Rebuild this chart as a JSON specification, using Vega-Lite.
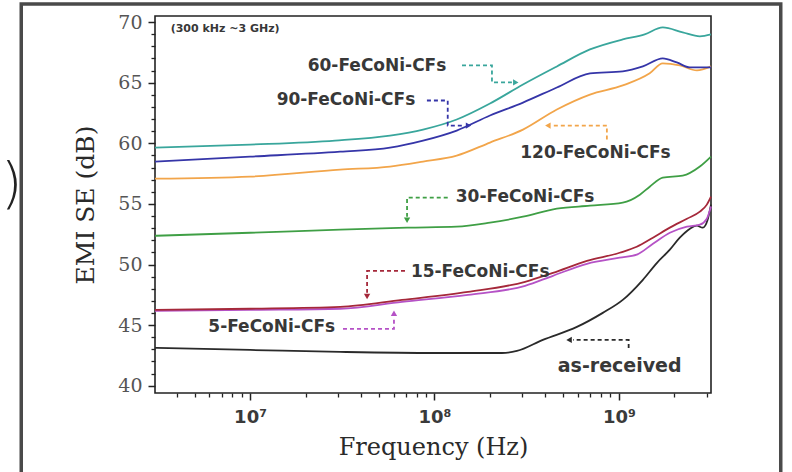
{
  "$schema": "https://vega.github.io/schema/vega-lite/v6.json",
  "width": 556,
  "height": 377,
  "autosize": "none",
  "padding": {"left": 155, "top": 16, "right": 81, "bottom": 79},
  "background": "white",
  "config": {"view": {"stroke": "#222", "strokeWidth": 1.6}},
  "datasets": {
    "curves": [
      {"s":"as-received","f":3.05e6,"db":43.12},{"s":"as-received","f":1e7,"db":42.95},{"s":"as-received","f":3.08e7,"db":42.79},{"s":"as-received","f":1.007e8,"db":42.70},{"s":"as-received","f":2.32e8,"db":42.70},{"s":"as-received","f":2.80e8,"db":42.87},{"s":"as-received","f":3.87e8,"db":43.78},{"s":"as-received","f":5.92e8,"db":44.85},{"s":"as-received","f":8.18e8,"db":46.01},{"s":"as-received","f":1.05e9,"db":47.08},{"s":"as-received","f":1.35e9,"db":48.74},{"s":"as-received","f":1.61e9,"db":50.14},{"s":"as-received","f":1.89e9,"db":51.22},{"s":"as-received","f":2.14e9,"db":52.21},{"s":"as-received","f":2.43e9,"db":52.95},{"s":"as-received","f":2.65e9,"db":53.20},{"s":"as-received","f":2.85e9,"db":53.04},{"s":"as-received","f":3.03e9,"db":53.70},{"s":"as-received","f":3.16e9,"db":54.94},
      {"s":"5-FeCoNi-CFs","f":3.05e6,"db":46.17},{"s":"5-FeCoNi-CFs","f":1e7,"db":46.26},{"s":"5-FeCoNi-CFs","f":3.08e7,"db":46.35},{"s":"5-FeCoNi-CFs","f":6.67e7,"db":46.92},{"s":"5-FeCoNi-CFs","f":1.52e8,"db":47.50},{"s":"5-FeCoNi-CFs","f":3.10e8,"db":48.24},{"s":"5-FeCoNi-CFs","f":4.39e8,"db":49.07},{"s":"5-FeCoNi-CFs","f":6.71e8,"db":50.06},{"s":"5-FeCoNi-CFs","f":1.01e9,"db":50.56},{"s":"5-FeCoNi-CFs","f":1.25e9,"db":50.81},{"s":"5-FeCoNi-CFs","f":1.53e9,"db":51.71},{"s":"5-FeCoNi-CFs","f":1.89e9,"db":52.62},{"s":"5-FeCoNi-CFs","f":2.34e9,"db":53.12},{"s":"5-FeCoNi-CFs","f":2.75e9,"db":53.29},{"s":"5-FeCoNi-CFs","f":3.00e9,"db":53.78},{"s":"5-FeCoNi-CFs","f":3.16e9,"db":54.78},
      {"s":"15-FeCoNi-CFs","f":3.05e6,"db":46.26},{"s":"15-FeCoNi-CFs","f":1e7,"db":46.35},{"s":"15-FeCoNi-CFs","f":3.08e7,"db":46.50},{"s":"15-FeCoNi-CFs","f":6.67e7,"db":47.08},{"s":"15-FeCoNi-CFs","f":1.52e8,"db":47.74},{"s":"15-FeCoNi-CFs","f":3.10e8,"db":48.57},{"s":"15-FeCoNi-CFs","f":4.39e8,"db":49.31},{"s":"15-FeCoNi-CFs","f":6.71e8,"db":50.30},{"s":"15-FeCoNi-CFs","f":1.01e9,"db":50.97},{"s":"15-FeCoNi-CFs","f":1.25e9,"db":51.46},{"s":"15-FeCoNi-CFs","f":1.53e9,"db":52.21},{"s":"15-FeCoNi-CFs","f":1.89e9,"db":53.04},{"s":"15-FeCoNi-CFs","f":2.34e9,"db":53.78},{"s":"15-FeCoNi-CFs","f":2.75e9,"db":54.36},{"s":"15-FeCoNi-CFs","f":3.00e9,"db":54.94},{"s":"15-FeCoNi-CFs","f":3.16e9,"db":55.60},
      {"s":"30-FeCoNi-CFs","f":3.05e6,"db":52.37},{"s":"30-FeCoNi-CFs","f":1e7,"db":52.62},{"s":"30-FeCoNi-CFs","f":3.08e7,"db":52.87},{"s":"30-FeCoNi-CFs","f":7.10e7,"db":53.04},{"s":"30-FeCoNi-CFs","f":1.32e8,"db":53.12},{"s":"30-FeCoNi-CFs","f":2.00e8,"db":53.45},{"s":"30-FeCoNi-CFs","f":3.02e8,"db":53.94},{"s":"30-FeCoNi-CFs","f":4.61e8,"db":54.61},{"s":"30-FeCoNi-CFs","f":6.97e8,"db":54.85},{"s":"30-FeCoNi-CFs","f":1.05e9,"db":55.10},{"s":"30-FeCoNi-CFs","f":1.30e9,"db":55.76},{"s":"30-FeCoNi-CFs","f":1.47e9,"db":56.42},{"s":"30-FeCoNi-CFs","f":1.73e9,"db":57.17},{"s":"30-FeCoNi-CFs","f":2.22e9,"db":57.33},{"s":"30-FeCoNi-CFs","f":2.75e9,"db":58.08},{"s":"30-FeCoNi-CFs","f":3.16e9,"db":58.90},
      {"s":"120-FeCoNi-CFs","f":3.05e6,"db":57.08},{"s":"120-FeCoNi-CFs","f":1e7,"db":57.25},{"s":"120-FeCoNi-CFs","f":3.08e7,"db":57.83},{"s":"120-FeCoNi-CFs","f":5.74e7,"db":58.08},{"s":"120-FeCoNi-CFs","f":8.67e7,"db":58.49},{"s":"120-FeCoNi-CFs","f":1.32e8,"db":58.98},{"s":"120-FeCoNi-CFs","f":2.00e8,"db":60.06},{"s":"120-FeCoNi-CFs","f":3.02e8,"db":61.13},{"s":"120-FeCoNi-CFs","f":4.61e8,"db":62.79},{"s":"120-FeCoNi-CFs","f":6.97e8,"db":64.02},{"s":"120-FeCoNi-CFs","f":1.05e9,"db":64.77},{"s":"120-FeCoNi-CFs","f":1.47e9,"db":65.77},{"s":"120-FeCoNi-CFs","f":1.73e9,"db":66.59},{"s":"120-FeCoNi-CFs","f":2.14e9,"db":66.42},{"s":"120-FeCoNi-CFs","f":2.65e9,"db":66.01},{"s":"120-FeCoNi-CFs","f":3.16e9,"db":66.34},
      {"s":"90-FeCoNi-CFs","f":3.05e6,"db":58.49},{"s":"90-FeCoNi-CFs","f":1e7,"db":58.90},{"s":"90-FeCoNi-CFs","f":3.08e7,"db":59.31},{"s":"90-FeCoNi-CFs","f":5.74e7,"db":59.64},{"s":"90-FeCoNi-CFs","f":8.67e7,"db":60.22},{"s":"90-FeCoNi-CFs","f":1.32e8,"db":61.05},{"s":"90-FeCoNi-CFs","f":2.00e8,"db":62.29},{"s":"90-FeCoNi-CFs","f":3.02e8,"db":63.36},{"s":"90-FeCoNi-CFs","f":4.61e8,"db":64.60},{"s":"90-FeCoNi-CFs","f":6.97e8,"db":65.76},{"s":"90-FeCoNi-CFs","f":1.05e9,"db":65.93},{"s":"90-FeCoNi-CFs","f":1.35e9,"db":66.34},{"s":"90-FeCoNi-CFs","f":1.73e9,"db":67.00},{"s":"90-FeCoNi-CFs","f":2.06e9,"db":66.67},{"s":"90-FeCoNi-CFs","f":2.43e9,"db":66.26},{"s":"90-FeCoNi-CFs","f":3.16e9,"db":66.26},
      {"s":"60-FeCoNi-CFs","f":3.05e6,"db":59.64},{"s":"60-FeCoNi-CFs","f":1e7,"db":59.89},{"s":"60-FeCoNi-CFs","f":2.89e7,"db":60.22},{"s":"60-FeCoNi-CFs","f":5.74e7,"db":60.64},{"s":"60-FeCoNi-CFs","f":8.67e7,"db":61.13},{"s":"60-FeCoNi-CFs","f":1.32e8,"db":61.96},{"s":"60-FeCoNi-CFs","f":2.00e8,"db":63.28},{"s":"60-FeCoNi-CFs","f":3.02e8,"db":64.85},{"s":"60-FeCoNi-CFs","f":4.61e8,"db":66.34},{"s":"60-FeCoNi-CFs","f":6.97e8,"db":67.74},{"s":"60-FeCoNi-CFs","f":1.05e9,"db":68.57},{"s":"60-FeCoNi-CFs","f":1.38e9,"db":68.98},{"s":"60-FeCoNi-CFs","f":1.73e9,"db":69.56},{"s":"60-FeCoNi-CFs","f":2.22e9,"db":69.15},{"s":"60-FeCoNi-CFs","f":2.75e9,"db":68.82},{"s":"60-FeCoNi-CFs","f":3.16e9,"db":68.98}
    ],
    "arrows": [
      {"s":"60-FeCoNi-CFs","o":1,"f":1.41e8,"db":66.42},{"s":"60-FeCoNi-CFs","o":2,"f":2.05e8,"db":66.42},{"s":"60-FeCoNi-CFs","o":3,"f":2.05e8,"db":65.02},{"s":"60-FeCoNi-CFs","o":4,"f":2.63e8,"db":65.02},
      {"s":"90-FeCoNi-CFs","o":1,"f":9.10e7,"db":63.53},{"s":"90-FeCoNi-CFs","o":2,"f":1.18e8,"db":63.53},{"s":"90-FeCoNi-CFs","o":3,"f":1.18e8,"db":61.46},{"s":"90-FeCoNi-CFs","o":4,"f":1.46e8,"db":61.46},
      {"s":"120-FeCoNi-CFs","o":1,"f":8.61e8,"db":60.31},{"s":"120-FeCoNi-CFs","o":2,"f":8.61e8,"db":61.46},{"s":"120-FeCoNi-CFs","o":3,"f":4.34e8,"db":61.46},
      {"s":"30-FeCoNi-CFs","o":1,"f":1.18e8,"db":55.51},{"s":"30-FeCoNi-CFs","o":2,"f":7.10e7,"db":55.51},{"s":"30-FeCoNi-CFs","o":3,"f":7.10e7,"db":53.94},
      {"s":"15-FeCoNi-CFs","o":1,"f":6.92e7,"db":49.48},{"s":"15-FeCoNi-CFs","o":2,"f":4.31e7,"db":49.48},{"s":"15-FeCoNi-CFs","o":3,"f":4.31e7,"db":47.66},
      {"s":"5-FeCoNi-CFs","o":1,"f":3.19e7,"db":44.69},{"s":"5-FeCoNi-CFs","o":2,"f":6.03e7,"db":44.69},{"s":"5-FeCoNi-CFs","o":3,"f":6.03e7,"db":45.68},
      {"s":"as-received","o":1,"f":1.13e9,"db":43.12},{"s":"as-received","o":2,"f":1.13e9,"db":43.78},{"s":"as-received","o":3,"f":5.64e8,"db":43.78}
    ],
    "heads": [
      {"s":"60-FeCoNi-CFs","dir":"right","f":2.76e8,"db":65.02},
      {"s":"90-FeCoNi-CFs","dir":"right","f":1.53e8,"db":61.46},
      {"s":"120-FeCoNi-CFs","dir":"left","f":4.12e8,"db":61.46},
      {"s":"30-FeCoNi-CFs","dir":"down","f":7.10e7,"db":53.65},
      {"s":"15-FeCoNi-CFs","dir":"down","f":4.31e7,"db":47.36},
      {"s":"5-FeCoNi-CFs","dir":"up","f":6.03e7,"db":45.98},
      {"s":"as-received","dir":"left","f":5.37e8,"db":43.78}
    ],
    "labels": [
      {"s":"60-FeCoNi-CFs","t":"60-FeCoNi-CFs","f":4.88e7,"db":66.34},
      {"s":"90-FeCoNi-CFs","t":"90-FeCoNi-CFs","f":3.31e7,"db":63.53},
      {"s":"120-FeCoNi-CFs","t":"120-FeCoNi-CFs","f":7.47e8,"db":59.23},
      {"s":"30-FeCoNi-CFs","t":"30-FeCoNi-CFs","f":3.10e8,"db":55.60},
      {"s":"15-FeCoNi-CFs","t":"15-FeCoNi-CFs","f":1.77e8,"db":49.40},
      {"s":"5-FeCoNi-CFs","t":"5-FeCoNi-CFs","f":1.31e7,"db":44.81},
      {"s":"as-received","t":"as-received","f":1.01e9,"db":41.63}
    ],
    "note": [{"t":"(300 kHz ~3 GHz)","f":7.32e6,"db":69.40}],
    "paren": [{"t":")","f":5.1e5,"db":56.59}],
    "frame": [{"f":5.74e5,"f2":7.55e9,"db":71.5,"db2":31.38}]
  },
  "layer": [
    {
      "data": {"name": "frame"},
      "mark": {"type": "rect", "fill": null, "fillOpacity": 0, "stroke": "#4a4a4a", "strokeWidth": 3.5},
      "encoding": {
        "x": {"field": "f", "type": "quantitative", "scale": {"type": "log", "domain": [3.05e6, 3.16e9], "nice": false}, "axis": null},
        "x2": {"field": "f2"},
        "y": {"field": "db", "type": "quantitative", "scale": {"domain": [39.4, 70.5], "nice": false, "zero": false}, "axis": null},
        "y2": {"field": "db2"}
      }
    },
    {
      "data": {"name": "paren"},
      "mark": {"type": "text", "font": "DejaVu Sans", "fontSize": 56, "fontWeight": 300, "color": "#222", "align": "center", "baseline": "middle"},
      "encoding": {
        "x": {"field": "f", "type": "quantitative", "scale": {"type": "log", "domain": [3.05e6, 3.16e9], "nice": false}, "axis": null},
        "y": {"field": "db", "type": "quantitative", "scale": {"domain": [39.4, 70.5], "nice": false, "zero": false}, "axis": null},
        "text": {"field": "t"}
      }
    },
    {
      "data": {"name": "curves"},
      "mark": {"type": "line", "strokeWidth": 1.8, "interpolate": "monotone"},
      "encoding": {
        "x": {"field": "f", "type": "quantitative", "scale": {"type": "log", "domain": [3.05e6, 3.16e9], "nice": false},
          "axis": {"orient": "bottom", "values": [1e7, 1e8, 1e9], "labelExpr": "datum.value < 5e7 ? '10⁷' : (datum.value < 5e8 ? '10⁸' : '10⁹')", "grid": false, "domain": false, "tickSize": 7, "tickWidth": 1.5, "tickColor": "#222", "labelFont": "DejaVu Sans", "labelFontSize": 18, "labelFontWeight": "bold", "labelColor": "#3a3a3a", "labelPadding": 8, "labelFlush": false, "title": "Frequency (Hz)", "titleFont": "DejaVu Serif", "titleFontSize": 24, "titleFontWeight": "normal", "titleColor": "#2a2a2a", "titlePadding": 9}},
        "y": {"field": "db", "type": "quantitative", "scale": {"domain": [39.4, 70.5], "nice": false, "zero": false},
          "axis": {"orient": "left", "values": [40, 45, 50, 55, 60, 65, 70], "grid": false, "domain": false, "tickSize": 7, "tickWidth": 1.5, "tickColor": "#222", "labelFont": "DejaVu Serif", "labelFontSize": 19, "labelColor": "#555", "labelPadding": 6, "title": "EMI SE (dB)", "titleFont": "DejaVu Serif", "titleFontSize": 25, "titleFontWeight": "normal", "titleColor": "#2a2a2a", "titlePadding": 19}},
        "color": {"field": "s", "type": "nominal", "legend": null,
          "scale": {"domain": ["60-FeCoNi-CFs", "90-FeCoNi-CFs", "120-FeCoNi-CFs", "30-FeCoNi-CFs", "15-FeCoNi-CFs", "5-FeCoNi-CFs", "as-received"],
                    "range": ["#39a69c", "#3535a8", "#f2a54a", "#3f9f45", "#a5283a", "#b552c6", "#2a2a2a"]}}
      }
    },
    {
      "data": {"name": "arrows"},
      "mark": {"type": "line", "strokeWidth": 1.8, "strokeDash": [4, 3]},
      "encoding": {
        "x": {"field": "f", "type": "quantitative", "scale": {"type": "log", "domain": [3.05e6, 3.16e9], "nice": false}, "axis": null},
        "y": {"field": "db", "type": "quantitative", "scale": {"domain": [39.4, 70.5], "nice": false, "zero": false}, "axis": null},
        "order": {"field": "o", "type": "quantitative"},
        "color": {"field": "s", "type": "nominal", "legend": null,
          "scale": {"domain": ["60-FeCoNi-CFs", "90-FeCoNi-CFs", "120-FeCoNi-CFs", "30-FeCoNi-CFs", "15-FeCoNi-CFs", "5-FeCoNi-CFs", "as-received"],
                    "range": ["#39a69c", "#3535a8", "#f2a54a", "#3f9f45", "#a5283a", "#b552c6", "#2a2a2a"]}}
      }
    },
    {
      "data": {"name": "heads"},
      "mark": {"type": "point", "filled": true, "size": 40, "opacity": 1},
      "encoding": {
        "x": {"field": "f", "type": "quantitative", "scale": {"type": "log", "domain": [3.05e6, 3.16e9], "nice": false},
          "axis": {"orient": "bottom", "values": [4e6, 5e6, 6e6, 7e6, 8e6, 9e6, 2e7, 3e7, 4e7, 5e7, 6e7, 7e7, 8e7, 9e7, 2e8, 3e8, 4e8, 5e8, 6e8, 7e8, 8e8, 9e8, 2e9, 3e9], "labels": false, "grid": false, "domain": false, "tickSize": 4, "tickWidth": 1.3, "tickColor": "#222", "title": null}},
        "y": {"field": "db", "type": "quantitative", "scale": {"domain": [39.4, 70.5], "nice": false, "zero": false},
          "axis": {"orient": "left", "values": [41, 42, 43, 44, 46, 47, 48, 49, 51, 52, 53, 54, 56, 57, 58, 59, 61, 62, 63, 64, 66, 67, 68, 69], "labels": false, "grid": false, "domain": false, "tickSize": 4, "tickWidth": 1.3, "tickColor": "#222", "title": null}},
        "shape": {"field": "dir", "type": "nominal", "legend": null, "scale": {"domain": ["right", "left", "down", "up"], "range": ["triangle-right", "triangle-left", "triangle-down", "triangle-up"]}},
        "color": {"field": "s", "type": "nominal", "legend": null,
          "scale": {"domain": ["60-FeCoNi-CFs", "90-FeCoNi-CFs", "120-FeCoNi-CFs", "30-FeCoNi-CFs", "15-FeCoNi-CFs", "5-FeCoNi-CFs", "as-received"],
                    "range": ["#39a69c", "#3535a8", "#f2a54a", "#3f9f45", "#a5283a", "#b552c6", "#2a2a2a"]}}
      }
    },
    {
      "data": {"name": "labels"},
      "mark": {"type": "text", "font": "DejaVu Sans", "fontWeight": "bold", "fontSize": 17, "color": "#383838", "align": "center", "baseline": "middle"},
      "encoding": {
        "x": {"field": "f", "type": "quantitative", "scale": {"type": "log", "domain": [3.05e6, 3.16e9], "nice": false}, "axis": null},
        "y": {"field": "db", "type": "quantitative", "scale": {"domain": [39.4, 70.5], "nice": false, "zero": false}, "axis": null},
        "text": {"field": "t"},
        "size": {"condition": {"test": "datum.s === 'as-received'", "value": 19}, "value": 17}
      }
    },
    {
      "data": {"name": "note"},
      "mark": {"type": "text", "font": "DejaVu Sans", "fontWeight": "bold", "fontSize": 11, "color": "#383838", "align": "center", "baseline": "middle"},
      "encoding": {
        "x": {"field": "f", "type": "quantitative", "scale": {"type": "log", "domain": [3.05e6, 3.16e9], "nice": false}, "axis": null},
        "y": {"field": "db", "type": "quantitative", "scale": {"domain": [39.4, 70.5], "nice": false, "zero": false}, "axis": null},
        "text": {"field": "t"}
      }
    }
  ],
  "resolve": {"axis": {"x": "independent", "y": "independent"}}
}
